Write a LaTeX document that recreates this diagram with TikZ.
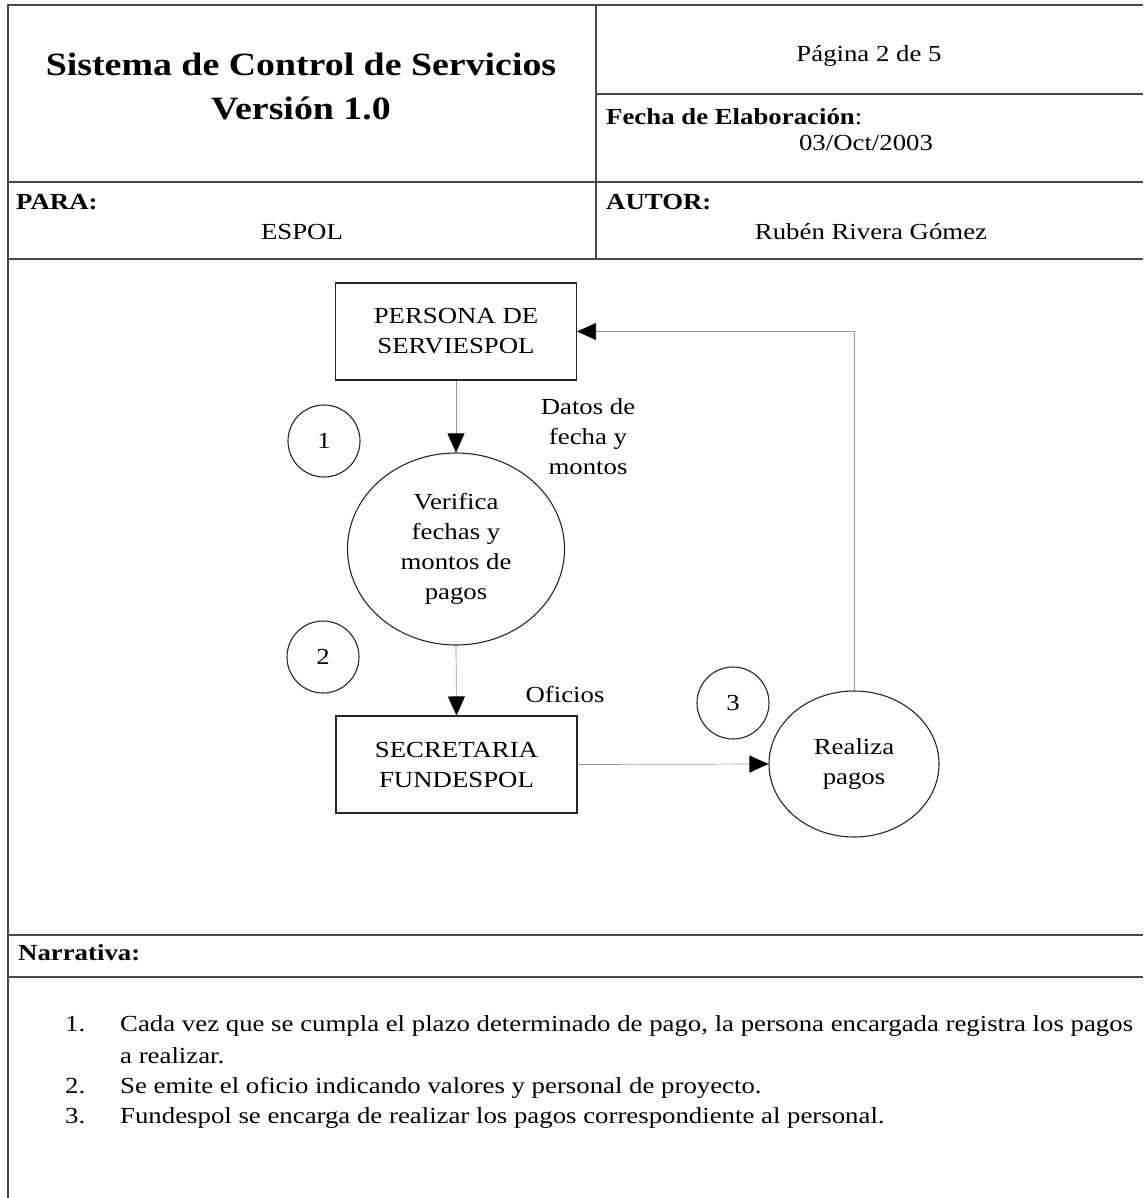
\documentclass[tikz,border=0pt]{standalone}
\usepackage{fontspec}
\setmainfont[FakeStretch=1.165]{Liberation Serif}
\usetikzlibrary{arrows.meta,shapes.geometric}
\newcommand\mybody{\fontsize{23}{30}\selectfont}
\newcommand\mytitle{\fontsize{32.5}{44}\selectfont\bfseries}
\tikzset{
  frameline/.style={draw=black!72, line width=1.3pt},
  txt/.style={inner sep=0pt, font=\mybody, align=center},
  lbl/.style={inner sep=0pt, font=\mybody, anchor=west},
  entity/.style={draw=black!85, line width=1.1pt, minimum width=241pt, minimum height=97pt, inner sep=0pt, font=\mybody, align=center},
  proc/.style={draw=black!85, line width=1.1pt, ellipse, inner sep=0pt, font=\mybody, align=center},
  numc/.style={draw=black!85, line width=1.1pt, circle, minimum size=72pt, inner sep=0pt, font=\mybody},
  flow/.style={draw=black!40, line width=0.7pt, -{Triangle[length=19pt,width=17pt,color=black]}}
}
\begin{document}
\begin{tikzpicture}[x=1pt,y=-1pt]
\useasboundingbox (0,0) rectangle (1143,1198);
% frame
\draw[frameline] (1143,5) -- (8,5) -- (8,1198);
\draw[frameline] (596,5) -- (596,259);
\draw[frameline] (596,94) -- (1143,94);
\draw[frameline] (8,182) -- (1143,182);
\draw[frameline] (8,259) -- (1143,259);
\draw[frameline] (8,935) -- (1143,935);
\draw[frameline] (8,977) -- (1143,977);
% header texts
\node[inner sep=0pt, font=\mytitle, align=center] (title) at (301,86) {Sistema de Control de Servicios\\Versión 1.0};
\node[txt] (pag) at (869,56) {Página 2 de 5};
\node[lbl] (fechalbl) at (606,117) {\textbf{Fecha de Elaboración}:};
\node[txt] (fecha) at (866,143) {03/Oct/2003};
\node[lbl] (para) at (16,202) {\textbf{PARA:}};
\node[txt] (espol) at (302,232) {ESPOL};
\node[lbl] (autor) at (606,202) {\textbf{AUTOR:}};
\node[txt] (autorname) at (871,232) {Rubén Rivera Gómez};
% diagram
\node[entity] (persona) at (456,331.5) {PERSONA DE\\SERVIESPOL};
\node[proc, minimum width=217pt, minimum height=192pt] (verifica) at (456,549) {Verifica\\fechas y\\montos de\\pagos};
\node[entity] (secretaria) at (456.5,764.5) {SECRETARIA\\FUNDESPOL};
\node[proc, minimum width=170pt, minimum height=146pt] (realiza) at (854,764) {Realiza\\pagos};
\node[numc] (n1) at (324,441) {1};
\node[numc] (n2) at (323,657) {2};
\node[numc] (n3) at (733,703) {3};
\node[txt] (datos) at (588,437) {Datos de\\fecha y\\montos};
\node[txt] (oficios) at (565,695) {Oficios};
\draw[flow] (persona.south) -- (verifica.north);
\draw[flow] (verifica.south) -- (secretaria.north);
\draw[flow] (secretaria.east) -- (realiza.west);
\draw[flow] (realiza.north) |- (persona.east);
% narrative
\node[lbl] (narr) at (18,953) {\textbf{Narrativa:}};
\node[inner sep=0pt, font=\mybody, anchor=base west] (i1n) at (65,1031) {1.};
\node[inner sep=0pt, font=\mybody, anchor=base west] (i1a) at (120,1031) {Cada vez que se cumpla el plazo determinado de pago, la persona encargada registra los pagos};
\node[inner sep=0pt, font=\mybody, anchor=base west] (i1b) at (120,1063) {a realizar.};
\node[inner sep=0pt, font=\mybody, anchor=base west] (i2n) at (65,1093) {2.};
\node[inner sep=0pt, font=\mybody, anchor=base west] (i2) at (120,1093) {Se emite el oficio indicando valores y personal de proyecto.};
\node[inner sep=0pt, font=\mybody, anchor=base west] (i3n) at (65,1123) {3.};
\node[inner sep=0pt, font=\mybody, anchor=base west] (i3) at (120,1123) {Fundespol se encarga de realizar los pagos correspondiente al personal.};
\end{tikzpicture}
\end{document}
